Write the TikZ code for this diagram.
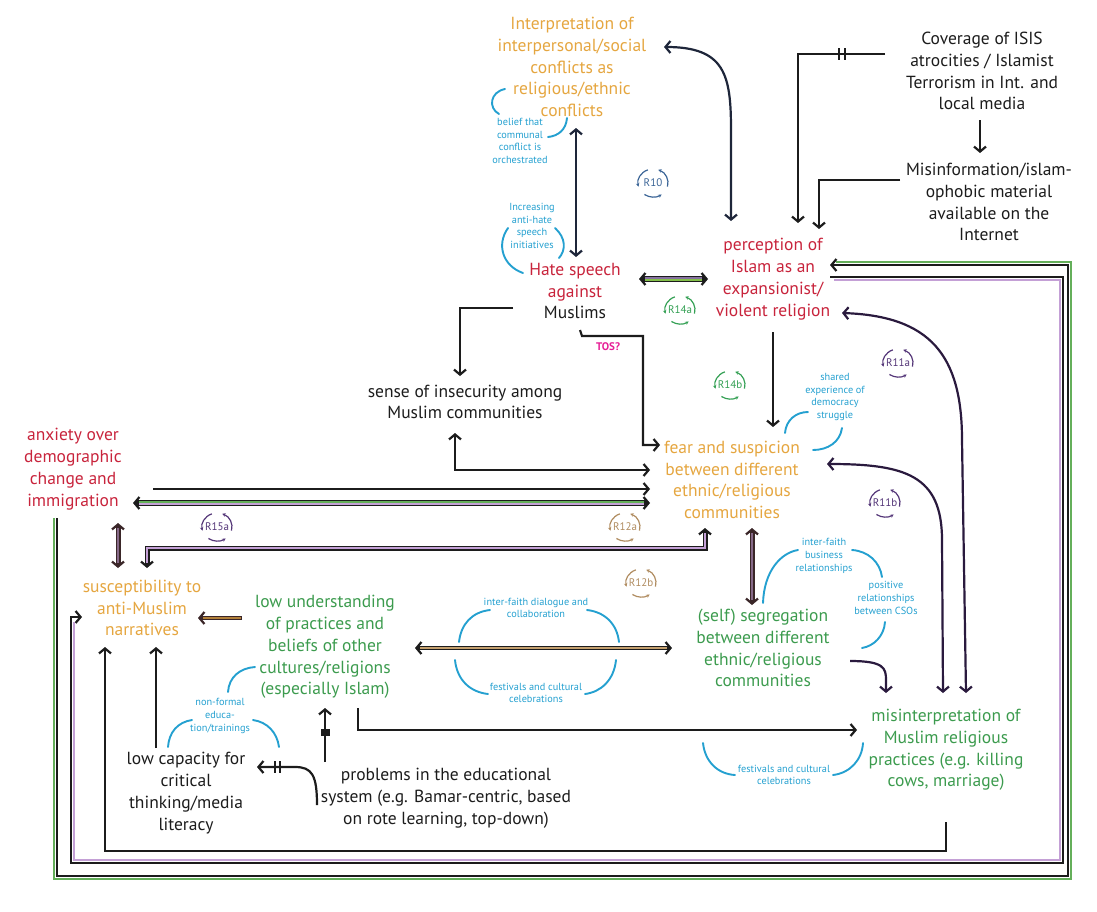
\documentclass[tikz,border=0pt]{standalone}
\usepackage{fontspec}
\setmainfont{PT Sans}
\usetikzlibrary{arrows.meta,calc}
\definecolor{corange}{RGB}{229,166,64}
\definecolor{cred}{RGB}{200,36,60}
\definecolor{cgreen}{RGB}{60,155,78}
\definecolor{cblue}{RGB}{36,160,208}
\definecolor{cnavy}{RGB}{30,38,58}
\definecolor{cdpurple}{RGB}{42,26,62}
\definecolor{cbrown}{RGB}{58,38,40}
\definecolor{clav}{RGB}{196,160,214}
\definecolor{cgrstripe}{RGB}{100,175,90}
\definecolor{ctan}{RGB}{196,160,110}
\definecolor{crpurple}{RGB}{84,54,120}
\definecolor{crgreen}{RGB}{52,160,84}
\definecolor{crblue}{RGB}{58,100,150}
\definecolor{crtan}{RGB}{176,140,96}
\definecolor{cmag}{RGB}{230,30,150}
\definecolor{cink}{RGB}{28,28,28}
\begin{document}
\begin{tikzpicture}[x=1pt,y=-1pt,
  >={Straight Barb[length=5pt,width=12pt,line width=2.2pt]},
  lbl/.style={align=center,font=\fontsize{17.5}{21.8}\selectfont,inner sep=0pt},
  ann/.style={align=center,font=\fontsize{10.3}{12.8}\selectfont,text=cblue,inner sep=0pt},
  conn/.style={line width=2.2pt,draw=cink},
  annarc/.style={line width=1.9pt,draw=cblue,line cap=round},
  stripe/.style={line width=1.3pt},
  delaybar/.style={line width=2pt,draw=cink},
  pics/rloop/.style={code={
    \node[font=\fontsize{11}{12}\selectfont,inner sep=0pt] (-t) {#1};
    \draw[line width=1.2pt,-{Stealth[length=3.5pt,width=3.5pt]}] (110:15pt and 14pt) arc[start angle=110,end angle=195,x radius=15pt,y radius=14pt];
    \draw[line width=1.2pt,-{Stealth[length=3.5pt,width=3.5pt]}] (235:15pt and 14pt) arc[start angle=235,end angle=305,x radius=15pt,y radius=14pt];
    \draw[line width=1.2pt,-{Stealth[length=3.5pt,width=3.5pt]}] (345:15pt and 14pt) arc[start angle=345,end angle=430,x radius=15pt,y radius=14pt];
  }}]
\useasboundingbox (0,0) rectangle (1097,911);

% ---------- main nodes ----------
\node[lbl,text=corange] (interp) at (572,67) {Interpretation of\\interpersonal/social\\conflicts as\\religious/ethnic\\conflicts};
\node[lbl,text=cink] (cover) at (982,71) {Coverage of ISIS\\atrocities / Islamist\\Terrorism in Int. and\\local media};
\node[lbl,text=cink] (misinfo) at (989,202) {Misinformation/islam-\\ophobic material\\available on the\\Internet};
\node[lbl,text=cred] (percep) at (773,279) {perception of\\Islam as an\\expansionist/\\violent religion};
\node[lbl] (hate) at (575,291) {\textcolor{cred}{Hate speech}\\\textcolor{cred}{against}\\\textcolor{cink}{Muslims}};
\node[lbl,text=cink] (insec) at (465,402) {sense of insecurity among\\Muslim communities};
\node[lbl,text=corange] (fear) at (732,480) {fear and suspicion\\between different\\ethnic/religious\\communities};
\node[lbl,text=cred] (anx) at (73,469) {anxiety over\\demographic\\change and\\immigration};
\node[lbl,text=corange] (susc) at (142,608) {susceptibility to\\anti-Muslim\\narratives};
\node[lbl,text=cgreen] (lowu) at (325,647) {low understanding\\of practices and\\beliefs of other\\cultures/religions\\(especially Islam)};
\node[lbl,text=cgreen] (segr) at (763,648) {(self) segregation\\between different\\ethnic/religious\\communities};
\node[lbl,text=cgreen] (misint) at (946,750) {misinterpretation of\\Muslim religious\\practices (e.g. killing\\cows, marriage)};
\node[lbl,text=cink] (lowc) at (186,793) {low capacity for\\critical\\thinking/media\\literacy};
\node[lbl,text=cink] (probl) at (446,798) {problems in the educational\\system (e.g. Bamar-centric, based\\on rote learning, top-down)};

% ---------- annotations ----------
\node[ann] (a1) at (520,141) {belief that\\communal\\conflict is\\orchestrated};
\node[ann] (a2) at (532,226) {Increasing\\anti-hate\\speech\\initiatives};
\node[ann] (a3) at (835,397) {shared\\experience of\\democracy\\struggle};
\node[ann] (a4) at (824,556) {inter-faith\\business\\relationships};
\node[ann] (a5) at (886,598) {positive\\relationships\\between CSOs};
\node[ann] (a6) at (536,608) {inter-faith dialogue and\\collaboration};
\node[ann] (a7) at (536,693) {festivals and cultural\\celebrations};
\node[ann] (a8) at (220,716) {non-formal\\educa-\\tion/trainings};
\node[ann] (a9) at (784,775) {festivals and cultural\\celebrations};

\draw[annarc] (505,89) .. controls (490,92) and (488,108) .. (499,114);
\draw[annarc] (567,118) .. controls (566,130) and (558,136) .. (548,137);
\draw[annarc] (508,228) .. controls (496,245) and (503,266) .. (523,273);
\draw[annarc] (555,228) .. controls (566,238) and (566,250) .. (559,258);
\draw[annarc] (785,433) .. controls (786,420) and (796,412) .. (808,412);
\draw[annarc] (813,450) .. controls (828,450) and (840,442) .. (842,428);
\draw[annarc] (763,603) .. controls (764,572) and (780,553) .. (798,550);
\draw[annarc] (852,550) .. controls (868,551) and (880,562) .. (882,577);
\draw[annarc] (885,622) .. controls (884,636) and (874,646) .. (862,648);
\draw[annarc] (490,610) .. controls (472,612) and (461,624) .. (459,642);
\draw[annarc] (587,610) .. controls (605,612) and (617,624) .. (619,642);
\draw[annarc] (455,660) .. controls (457,680) and (470,692) .. (488,694);
\draw[annarc] (616,660) .. controls (614,680) and (601,692) .. (585,694);
\draw[annarc] (228,692) .. controls (229,677) and (240,668) .. (255,667);
\draw[annarc] (168,747) .. controls (169,732) and (178,722) .. (192,720);
\draw[annarc] (253,720) .. controls (267,722) and (277,732) .. (279,747);
\draw[annarc] (703,743) .. controls (705,762) and (718,774) .. (735,775);
\draw[annarc] (833,775) .. controls (850,773) and (862,760) .. (863,743);

% ---------- loop markers ----------
\pic[crblue] (r10) at (653,183) {rloop=R10};
\pic[crgreen] (r14a) at (680,310) {rloop=R14a};
\pic[crgreen] (r14b) at (730,385) {rloop=R14b};
\pic[crpurple] (r11a) at (898,363) {rloop=R11a};
\pic[crpurple] (r11b) at (885,503) {rloop=R11b};
\pic[crpurple] (r15a) at (217,527) {rloop=R15a};
\pic[crtan] (r12a) at (625,527) {rloop=R12a};
\pic[crtan] (r12b) at (641,583) {rloop=R12b};

\node[text=cmag,font=\bfseries\fontsize{11}{12}\selectfont,inner sep=0pt] (tos) at (608,347) {TOS?};

% ---------- outer frames ----------
\draw[stripe,cgrstripe] ($(anx)+(-19,49)$) -- (54,879) -- (1071,879) -- (1071,262) -- (836,262);
\draw[conn,->] ($(anx)+(-16,49)$) -- (57,876) -- (1068,876) -- (1068,265) -- ($(percep)+(57,-14)$);
\draw[conn,->] ($(percep)+(57,-2)$) -- (1063,277) -- (1063,863) -- (71,863) -- (71,617) -- ($(susc)+(-60,9)$);
\draw[stripe,clav] (834,280) -- (1060,280) -- (1060,860) -- (74,860) -- (74,622);

% ---------- connectors ----------
\draw[conn,draw=cnavy,<->] ($(interp)+(92,-20)$) .. controls (725,47) and (731,75) .. (731,130) -- ($(percep)+(-42,-58)$);
\draw[conn,draw=cnavy,<->] ($(interp)+(4,61)$) -- ($(hate)+(1,-34)$);
\draw[conn,->] ($(cover)+(-97,-17)$) -- (798,54) -- ($(percep)+(25,-56)$);
\draw[delaybar] (839,48) -- (839,60) (845,48) -- (845,60);
\draw[conn,->] ($(cover)+(-2,49)$) -- ($(misinfo)+(-9,-49)$);
\draw[conn,->] ($(misinfo)+(-89,-22)$) -- (819,180) -- ($(percep)+(46,-50)$);

% hate <-> perception (striped)
\draw[line width=6pt,cink,shorten <=3pt,shorten >=3pt] ($(hate)+(64,-12)$) -- ($(percep)+(-65,0)$);
\draw[conn,<->] ($(hate)+(64,-12)$) -- ($(percep)+(-65,0)$);
\draw[stripe,crpurple!70] ($(hate)+(70,-13)$) -- ($(percep)+(-71,-1)$);
\draw[stripe,cgrstripe!80!yellow] ($(hate)+(70,-11)$) -- ($(percep)+(-71,1)$);

\draw[conn,->] ($(hate)+(-62,17)$) -- (460,308) -- ($(insec)+(-5,-26)$);
\draw[conn,->] ($(hate)+(5,39)$) -- (582,336) -- (643,336) -- (643,445) -- ($(fear)+(-72,-35)$);
\draw[conn,->] ($(percep)+(0,53)$) -- ($(fear)+(41,-53)$);
\draw[conn,<->] ($(insec)+(-10,31)$) -- (455,470) -- ($(fear)+(-82,-10)$);
\draw[conn,->] ($(anx)+(80,20)$) -- ($(fear)+(-82,9)$);

% fear <-> anxiety (striped)
\draw[line width=5.5pt,cink,shorten <=3pt,shorten >=3pt] ($(fear)+(-82,23)$) -- ($(anx)+(60,34)$);
\draw[conn,<->] ($(fear)+(-82,23)$) -- ($(anx)+(60,34)$);
\draw[stripe,cgrstripe] ($(fear)+(-88,22)$) -- ($(anx)+(66,33)$);
\draw[stripe,clav] ($(fear)+(-88,24)$) -- ($(anx)+(66,35)$);

% anxiety <-> susceptibility
\draw[line width=5pt,cbrown,shorten <=3pt,shorten >=3pt] ($(anx)+(45,54)$) -- ($(susc)+(-24,-40)$);
\draw[conn,draw=cbrown,<->] ($(anx)+(45,54)$) -- ($(susc)+(-24,-40)$);
\draw[stripe,cbrown!45!clav,shorten <=5pt,shorten >=5pt] ($(anx)+(45,54)$) -- ($(susc)+(-24,-40)$);

% fear <-> susceptibility
\draw[line width=5pt,cink,shorten <=3pt,shorten >=3pt] ($(fear)+(-27,48)$) -- (705,548) -- (147,548) -- ($(susc)+(5,-40)$);
\draw[conn,<->] ($(fear)+(-27,48)$) -- (705,548) -- (147,548) -- ($(susc)+(5,-40)$);
\draw[stripe,clav,shorten <=5pt,shorten >=5pt] ($(fear)+(-27,48)$) -- (705,548) -- (147,548) -- ($(susc)+(5,-40)$);

% fear <-> segregation
\draw[line width=5pt,cbrown,shorten <=3pt,shorten >=3pt] ($(fear)+(20,48)$) -- ($(segr)+(-11,-43)$);
\draw[conn,draw=cbrown,<->] ($(fear)+(20,48)$) -- ($(segr)+(-11,-43)$);
\draw[stripe,cbrown!45!clav,shorten <=5pt,shorten >=5pt] ($(fear)+(20,48)$) -- ($(segr)+(-11,-43)$);

% low understanding -> susceptibility
\draw[line width=4.5pt,cbrown,shorten >=3pt] ($(lowu)+(-83,-29)$) -- ($(susc)+(56,10)$);
\draw[conn,draw=cbrown,->] ($(lowu)+(-83,-29)$) -- ($(susc)+(56,10)$);
\draw[stripe,corange!70!cbrown,shorten <=1pt,shorten >=5pt] ($(lowu)+(-83,-29)$) -- ($(susc)+(56,10)$);

% low understanding <-> segregation
\draw[line width=4.5pt,cink,shorten <=3pt,shorten >=3pt] ($(lowu)+(90,1)$) -- ($(segr)+(-91,0)$);
\draw[conn,<->] ($(lowu)+(90,1)$) -- ($(segr)+(-91,0)$);
\draw[stripe,ctan,shorten <=5pt,shorten >=5pt] ($(lowu)+(90,1)$) -- ($(segr)+(-91,0)$);

\draw[conn,->] ($(lowu)+(33,61)$) -- (358,730) -- ($(misint)+(-89,-20)$);
\draw[conn,draw=cdpurple,->] ($(segr)+(87,13)$) .. controls (884,661) and (886,668) .. (886,680) -- ($(misint)+(-60,-57)$);
\draw[conn,draw=cdpurple,<->] ($(percep)+(69,34)$) .. controls (930,316) and (962,355) .. (962,440) -- ($(misint)+(20,-57)$);
\draw[conn,draw=cdpurple,<->] ($(fear)+(95,-16)$) .. controls (905,464) and (942,475) .. (942,540) -- ($(misint)+(-3,-57)$);
\draw[conn,->] ($(misint)+(0,72)$) -- (946,851) -- (105,851) -- ($(susc)+(-37,39)$);
\draw[conn,->] ($(lowc)+(-30,-45)$) -- ($(susc)+(14,39)$);
\draw[conn,->] ($(probl)+(-129,7)$) .. controls (317,775) and (312,767) .. (295,767) -- ($(lowc)+(71,-26)$);
\draw[delaybar] (275,761) -- (275,773) (280,761) -- (280,773);
\draw[conn,->] ($(probl)+(-121,-36)$) -- ($(lowu)+(0,61)$);
\draw[fill=cink,draw=cink] (321,729) rectangle (329,735);
\end{tikzpicture}
\end{document}
